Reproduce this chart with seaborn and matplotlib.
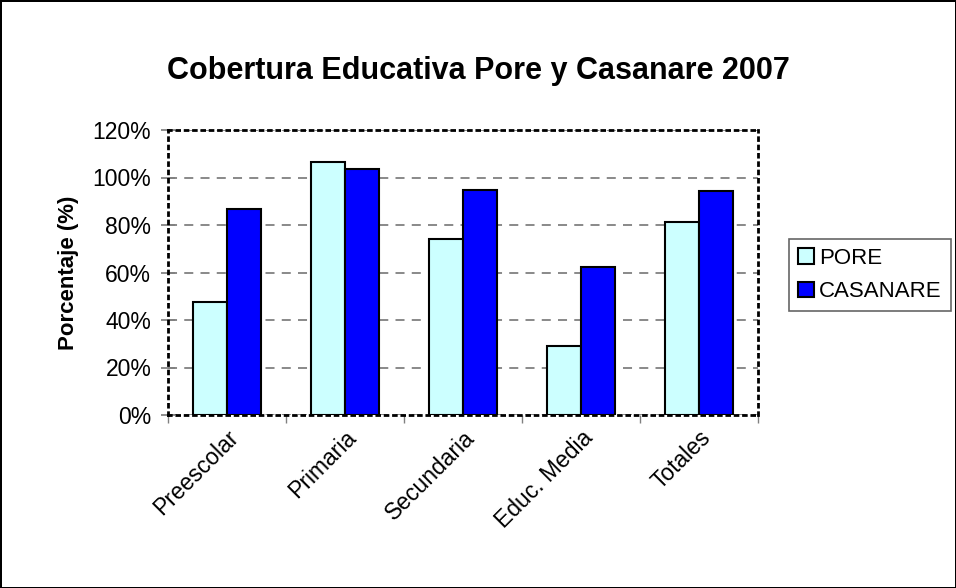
from matplotlib import pyplot as plt
from matplotlib.ticker import FuncFormatter, FixedLocator
import pandas as pd
import seaborn as sns

# Data (percent)
categorias = ["Preescolar", "Primaria", "Secundaria", "Educ. Media", "Totales"]
pore = [47.7, 106.7, 74.0, 29.2, 81.4]
casanare = [86.6, 103.4, 94.7, 62.2, 94.2]

df = pd.DataFrame({
    "Nivel": categorias * 2,
    "Serie": ["PORE"] * len(categorias) + ["CASANARE"] * len(categorias),
    "Valor": pore + casanare,
})

sns.set_theme(style="white")
plt.rcParams["font.family"] = ["Liberation Sans", "DejaVu Sans"]
plt.rcParams["text.color"] = "black"
plt.rcParams["axes.labelcolor"] = "black"
plt.rcParams["xtick.color"] = "black"
plt.rcParams["ytick.color"] = "black"

fig = plt.figure(figsize=(9.56, 5.88), dpi=100)
fig.patch.set_edgecolor("black")
fig.patch.set_linewidth(2)
ax = fig.add_axes([168 / 956, 1 - 415 / 588, (758 - 168) / 956, (415 - 130) / 588])

sns.barplot(data=df, x="Nivel", y="Valor", hue="Serie", order=categorias,
            hue_order=["PORE", "CASANARE"],
            palette={"PORE": "#CCFFFF", "CASANARE": "#0000FF"}, saturation=1,
            width=0.57, edgecolor="black", linewidth=1.5, ax=ax, zorder=3)

ax.set_ylim(0, 120)
ax.set_xlim(-0.5, len(categorias) - 0.5)
ax.set_yticks(range(0, 121, 20))
ax.yaxis.set_major_formatter(FuncFormatter(lambda v, p: "{:.0f}%".format(v)))
ax.yaxis.grid(True, linestyle=(0, (5, 4)), color="#808080", linewidth=1.3, zorder=0)
ax.set_axisbelow(True)

# category boundaries as ticks, labels in the middle
ax.xaxis.set_minor_locator(FixedLocator([i - 0.5 for i in range(len(categorias) + 1)]))
ax.tick_params(axis="x", which="major", length=0, pad=8)
ax.tick_params(axis="x", which="minor", length=6, direction="out", color="#808080", bottom=True)
ax.tick_params(axis="y", which="major", length=10, direction="inout", color="#808080", left=True,
               labelsize=16.5, pad=7)
ax.set_xticks(range(len(categorias)))
ax.set_xticklabels(categorias, rotation=45, ha="right", rotation_mode="anchor", fontsize=16.5)

for s in ax.spines.values():
    s.set_visible(True)
    s.set_color("black")
    s.set_linewidth(2)
    s.set_linestyle((0, (1, 2)))

ax.set_xlabel("")
ax.set_ylabel("Porcentaje (%)", fontsize=16, fontweight="bold", labelpad=10)

fig.suptitle("Cobertura Educativa Pore y Casanare 2007", x=478 / 956, y=1 - 56 / 588,
             fontsize=22, fontweight="bold")

handles, labels = ax.get_legend_handles_labels()
ax.get_legend().remove()
leg = fig.legend(handles, labels, loc="upper left", bbox_to_anchor=(778 / 956, 1 - 228 / 588),
                 fontsize=16, frameon=True, fancybox=False, edgecolor="#404040",
                 handlelength=0.7, handleheight=0.7, handletextpad=0.25, borderpad=0.4,
                 labelspacing=0.55)
leg.get_frame().set_linewidth(1.2)

plt.savefig("out.png", dpi=100)
